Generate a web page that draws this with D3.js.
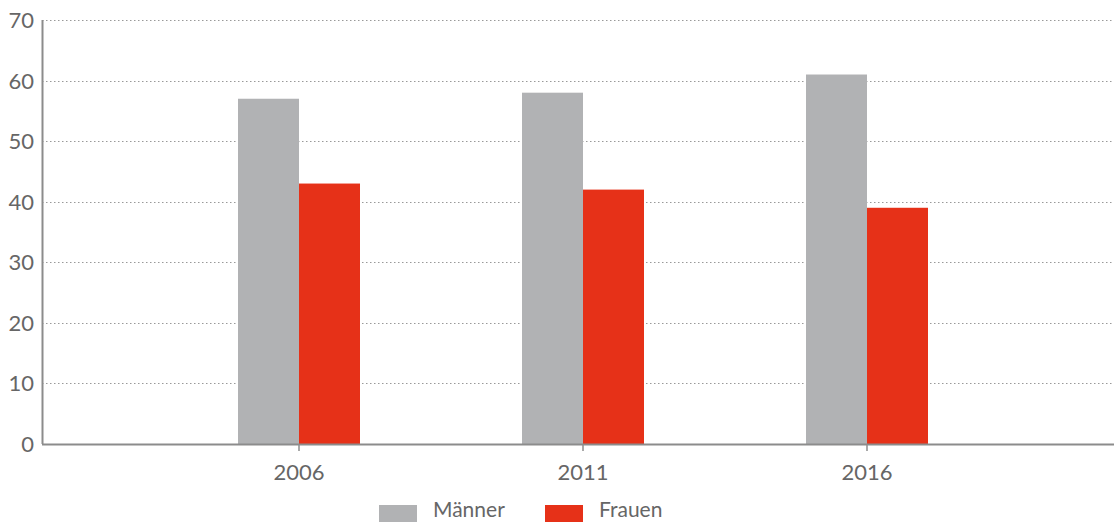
<!DOCTYPE html>
<html>
<head>
<meta charset="utf-8">
<script src="https://cdn.jsdelivr.net/npm/d3@7"></script>
<style>
  body { margin: 0; background: #fff; }
  text { font-family: Lato, "Open Sans", sans-serif; fill: #666; }
</style>
</head>
<body>
<svg id="chart" width="1114" height="522"></svg>
<script>
// data
const years = ["2006", "2011", "2016"];
const maenner = [57, 58, 61];
const frauen = [43, 42, 39];
const seriesNames = ["Männer", "Frauen"];
const seriesColors = ["#b1b2b4", "#e63118"];
const yTicks = [0, 10, 20, 30, 40, 50, 60, 70];

const svg = d3.select("#chart");

const axisLeftX = 42, axisRightX = 1114;
const y = d3.scaleLinear().domain([0, 70]).range([444, 20]);
const x = d3.scaleBand().domain(years).range([157, 1009]);
const barW = 61;

// dotted grid lines
svg.append("g").selectAll("line")
    .data(yTicks.filter(d => d > 0))
    .enter().append("line")
    .attr("x1", axisLeftX).attr("x2", axisRightX)
    .attr("y1", d => Math.round(y(d)) + 0.5).attr("y2", d => Math.round(y(d)) + 0.5)
    .attr("stroke", "#999")
    .attr("stroke-width", 1)
    .attr("stroke-dasharray", "1.5,2.5");

// bars
const rows = years.map((yr, i) => ({ year: yr, vals: [maenner[i], frauen[i]] }));
svg.append("g").selectAll("g")
    .data(rows)
    .enter().append("g")
    .each(function (d) {
        const cx = x(d.year) + x.bandwidth() / 2;
        d3.select(this).selectAll("rect")
            .data(d.vals)
            .enter().append("rect")
            .attr("x", (v, j) => j === 0 ? cx - barW : cx)
            .attr("width", barW)
            .attr("y", v => y(v))
            .attr("height", v => y(0) - y(v))
            .attr("fill", (v, j) => seriesColors[j]);
    });

// y axis line + labels
svg.append("line")
    .attr("x1", axisLeftX + 0.5).attr("x2", axisLeftX + 0.5)
    .attr("y1", y(70)).attr("y2", y(0))
    .attr("stroke", "#8c8c8c").attr("stroke-width", 2);

svg.append("g").selectAll("text")
    .data(yTicks)
    .enter().append("text")
    .attr("x", 34)
    .attr("y", d => y(d) + 8)
    .attr("text-anchor", "end")
    .attr("font-size", 22)
    .text(d => d);

// x axis
svg.append("line")
    .attr("x1", axisLeftX).attr("x2", axisRightX)
    .attr("y1", y(0) + 0.5).attr("y2", y(0) + 0.5)
    .attr("stroke", "#8c8c8c").attr("stroke-width", 2);

const xTicks = svg.append("g").selectAll("g")
    .data(years)
    .enter().append("g")
    .attr("transform", d => "translate(" + (x(d) + x.bandwidth() / 2) + ",0)");
xTicks.append("line")
    .attr("y1", y(0)).attr("y2", y(0) + 7)
    .attr("stroke", "#8c8c8c").attr("stroke-width", 1.5);
xTicks.append("text")
    .attr("y", 480)
    .attr("text-anchor", "middle")
    .attr("font-size", 22)
    .text(d => d);

// legend
const legendX = [379, 545];
const legend = svg.append("g").selectAll("g")
    .data(seriesNames)
    .enter().append("g")
    .attr("transform", (d, i) => "translate(" + legendX[i] + ",0)");
legend.append("rect")
    .attr("y", 505).attr("width", 38).attr("height", 17)
    .attr("fill", (d, i) => seriesColors[i]);
legend.append("text")
    .attr("x", 54).attr("y", 517)
    .attr("font-size", 21)
    .text(d => d);
</script>
</body>
</html>
